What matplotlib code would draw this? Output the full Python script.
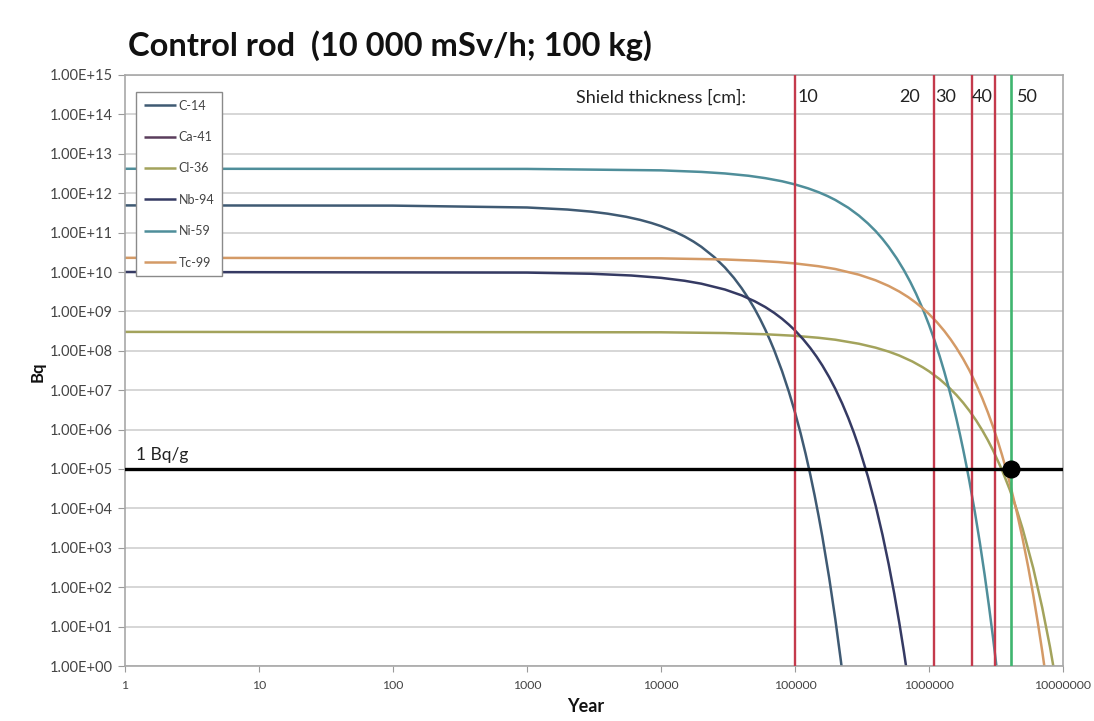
import matplotlib
matplotlib.use("Agg")
import matplotlib.pyplot as plt
from matplotlib.ticker import FixedLocator, FixedFormatter

plt.rcParams['font.family'] = ['Lato', 'DejaVu Sans']

# ---- data ----
nuclides = ["C-14", "Ca-41", "Cl-36", "Nb-94", "Ni-59", "Tc-99"]

c14_years = [1, 100, 1000, 2000, 3000, 4000, 5500, 7000, 8500, 10000, 12500, 15000, 17500,
             20000, 25000, 30000, 35000, 40000, 45000, 50000, 55000, 60000, 65000, 70000,
             80000, 90000, 100000, 110000, 120000, 130000, 140000, 150000, 160000, 180000,
             200000, 220000, 240000]
c14_bq = [4.9e11, 4.84e11, 4.34e11, 3.85e11, 3.41e11, 3.02e11, 2.52e11, 2.10e11, 1.75e11,
          1.46e11, 1.08e11, 7.98e10, 5.90e10, 4.36e10, 2.38e10, 1.30e10, 7.10e9, 3.87e9,
          2.12e9, 1.16e9, 6.31e8, 3.45e8, 1.88e8, 1.03e8, 3.07e7, 9.14e6, 2.73e6, 8.15e5,
          2.43e5, 7.24e4, 2.16e4, 6.44e3, 1.92e3, 171, 15.2, 1.35, 0.12]

ca41_years = []
ca41_bq = []

cl36_years = [1, 10000, 30000, 60000, 100000, 150000, 200000, 300000, 400000, 500000,
              600000, 750000, 900000, 1000000, 1200000, 1400000, 1600000, 1800000, 2000000,
              2250000, 2500000, 2750000, 3000000, 3500000, 4000000, 4500000, 5000000,
              6000000, 7000000, 8000000, 9000000]
cl36_bq = [3.02e8, 2.95e8, 2.82e8, 2.63e8, 2.40e8, 2.14e8, 1.91e8, 1.51e8, 1.20e8, 9.55e7,
           7.59e7, 5.37e7, 3.80e7, 3.02e7, 1.91e7, 1.20e7, 7.59e6, 4.79e6, 3.02e6, 1.70e6,
           9.55e5, 5.37e5, 3.02e5, 9.55e4, 3.02e4, 9.55e3, 3.02e3, 302, 30.2, 3.02, 0.30]

nb94_years = [1, 1000, 3000, 6000, 10000, 15000, 20000, 30000, 40000, 50000, 60000, 70000,
              80000, 90000, 100000, 115000, 130000, 145000, 160000, 180000, 200000, 225000,
              250000, 275000, 300000, 350000, 400000, 450000, 500000, 550000, 600000,
              650000, 700000]
nb94_bq = [1.0e10, 9.66e9, 9.03e9, 8.15e9, 7.11e9, 5.99e9, 5.05e9, 3.59e9, 2.55e9, 1.81e9,
           1.29e9, 9.16e8, 6.51e8, 4.62e8, 3.29e8, 1.97e8, 1.18e8, 7.08e7, 4.24e7, 2.14e7,
           1.08e7, 4.60e6, 1.96e6, 8.35e5, 3.56e5, 6.44e4, 1.17e4, 2.12e3, 385, 69.7, 12.6,
           2.29, 0.416]

ni59_years = [1, 1000, 10000, 20000, 30000, 45000, 60000, 80000, 100000, 125000, 150000,
              175000, 200000, 250000, 300000, 350000, 400000, 450000, 500000, 575000, 650000,
              725000, 800000, 900000, 1000000, 1100000, 1200000, 1300000, 1400000, 1500000,
              1600000, 1700000, 1800000, 1900000, 2000000, 2200000, 2400000, 2600000,
              2800000, 3000000, 3200000, 3400000]
ni59_bq = [4.17e12, 4.13e12, 3.80e12, 3.47e12, 3.17e12, 2.77e12, 2.41e12, 2.01e12, 1.67e12,
           1.33e12, 1.06e12, 8.45e11, 6.73e11, 4.27e11, 2.70e11, 1.71e11, 1.09e11, 6.89e10,
           4.36e10, 2.20e10, 1.11e10, 5.60e9, 2.83e9, 1.14e9, 4.56e8, 1.83e8, 7.36e7,
           2.96e7, 1.19e7, 4.77e6, 1.91e6, 7.69e5, 3.09e5, 1.24e5, 4.99e4, 8.05e3, 1.30e3,
           210, 33.8, 5.46, 0.88, 0.14]

tc99_years = [1, 10000, 30000, 50000, 75000, 100000, 150000, 200000, 300000, 400000,
              500000, 600000, 700000, 800000, 900000, 1000000, 1150000, 1300000, 1450000,
              1600000, 1800000, 2000000, 2250000, 2500000, 2750000, 3000000, 3250000,
              3500000, 3750000, 4000000, 4500000, 5000000, 5500000, 6000000, 6500000,
              7000000, 7500000]
tc99_bq = [2.29e10, 2.22e10, 2.08e10, 1.94e10, 1.79e10, 1.65e10, 1.40e10, 1.19e10, 8.55e9,
           6.15e9, 4.43e9, 3.19e9, 2.30e9, 1.65e9, 1.19e9, 8.57e8, 5.24e8, 3.20e8, 1.95e8,
           1.19e8, 6.18e7, 3.21e7, 1.41e7, 6.20e6, 2.73e6, 1.20e6, 5.27e5, 2.32e5, 1.02e5,
           4.49e4, 8.68e3, 1.68e3, 324, 62.8, 12.1, 2.35, 0.45]

clearance_bq = 1.0e5                      # 1 Bq/g x 100 kg
shield_years = [1.0e5, 1.09e6, 2.08e6, 3.11e6]   # red lines
shield_limit_year = 4.07e6                # green line
shield_labels = ["10", "20", "30", "40", "50"]
shield_label_years = [1.05e5, 6.0e5, 1.12e6, 2.1e6, 4.5e6]

x_ticks = [1, 10, 100, 1000, 10000, 100000, 1000000, 10000000]
x_tick_labels = ["1", "10", "100", "1000", "10000", "100000", "1000000", "10000000"]
y_ticks = [10.0 ** e for e in range(0, 16)]
y_tick_labels = ["1.00E+%02d" % e for e in range(0, 16)]

colors = {
    "C-14": "#3f5a73",
    "Ca-41": "#5a3d5c",
    "Cl-36": "#a3a35c",
    "Nb-94": "#353a63",
    "Ni-59": "#4f8e9a",
    "Tc-99": "#d49a66",
}

series = {
    "C-14": (c14_years, c14_bq),
    "Ca-41": (ca41_years, ca41_bq),
    "Cl-36": (cl36_years, cl36_bq),
    "Nb-94": (nb94_years, nb94_bq),
    "Ni-59": (ni59_years, ni59_bq),
    "Tc-99": (tc99_years, tc99_bq),
}

# ---- figure ----
W, H = 1094, 721
fig = plt.figure(figsize=(W / 100, H / 100), dpi=100)
left, right, top, bottom = 125, 1063, 75, 666
ax = fig.add_axes([left / W, 1 - bottom / H, (right - left) / W, (bottom - top) / H])
ax.set_xscale("log")
ax.set_yscale("log")
ax.set_xlim(1, 1e7)
ax.set_ylim(1, 1e15)

# grid
ax.yaxis.grid(True, color="#d6d6d6", linewidth=1.4)
ax.xaxis.grid(False)
ax.set_axisbelow(True)

for name in nuclides:
    xs, ys = series[name]
    ax.plot(xs, ys, color=colors[name], linewidth=1.8, label=name, solid_capstyle="butt")

# clearance line
ax.axhline(clearance_bq, color="black", linewidth=2.4, zorder=4)

# shield lines
for xv in shield_years:
    ax.axvline(xv, color="#c43a4c", linewidth=1.7, zorder=3)
ax.axvline(shield_limit_year, color="#3fb56f", linewidth=1.9, zorder=3)

ax.plot([shield_limit_year], [clearance_bq], "o", color="black", markersize=12, zorder=6)

# texts
ty = 2.7e14
ax.text(2.32e3, ty, "Shield thickness [cm]:", fontsize=13, va="center", ha="left",
        color="#222222")
for lab, xv in zip(shield_labels, shield_label_years):
    ax.text(xv, ty, lab, fontsize=13, va="center", ha="left", color="#222222")
ax.text(1.2, 2.3e5, "1 Bq/g", fontsize=12.5, va="center", ha="left", color="#222222")

# ticks
ax.xaxis.set_major_locator(FixedLocator(x_ticks))
ax.xaxis.set_major_formatter(FixedFormatter(x_tick_labels))
ax.xaxis.set_minor_locator(FixedLocator([]))
ax.yaxis.set_major_locator(FixedLocator(y_ticks))
ax.yaxis.set_major_formatter(FixedFormatter(y_tick_labels))
ax.yaxis.set_minor_locator(FixedLocator([]))
ax.tick_params(axis="x", labelsize=8.8, colors="#9a9a9a", labelcolor="#444444", length=4, pad=6)
ax.tick_params(axis="y", labelsize=10.5, colors="#9a9a9a", labelcolor="#444444", length=5, pad=4)

for sp in ax.spines.values():
    sp.set_color("#a8a8a8")
    sp.set_linewidth(1.2)

leg = ax.legend(loc="upper left", bbox_to_anchor=(0.012, 0.971), borderaxespad=0,
                fontsize=9, labelspacing=1.55, handlelength=2.6, handletextpad=0.2,
                borderpad=0.6, fancybox=False, framealpha=1, edgecolor="#8a8a8a")
leg.get_frame().set_linewidth(1.0)
for t in leg.get_texts():
    t.set_color("#444444")

fig.text(128 / W, 1 - 46 / H, "Control rod  (10 000 mSv/h; 100 kg)", fontsize=23.5,
         fontweight="bold", ha="left", va="center", color="#111111")
fig.text(38 / W, 1 - 372 / H, "Bq", fontsize=12, fontweight="bold", rotation=90,
         ha="center", va="center", color="#111111")
fig.text(586 / W, 1 - 707 / H, "Year", fontsize=13, fontweight="bold",
         ha="center", va="center", color="#111111")

fig.savefig("out.png", dpi=100)
